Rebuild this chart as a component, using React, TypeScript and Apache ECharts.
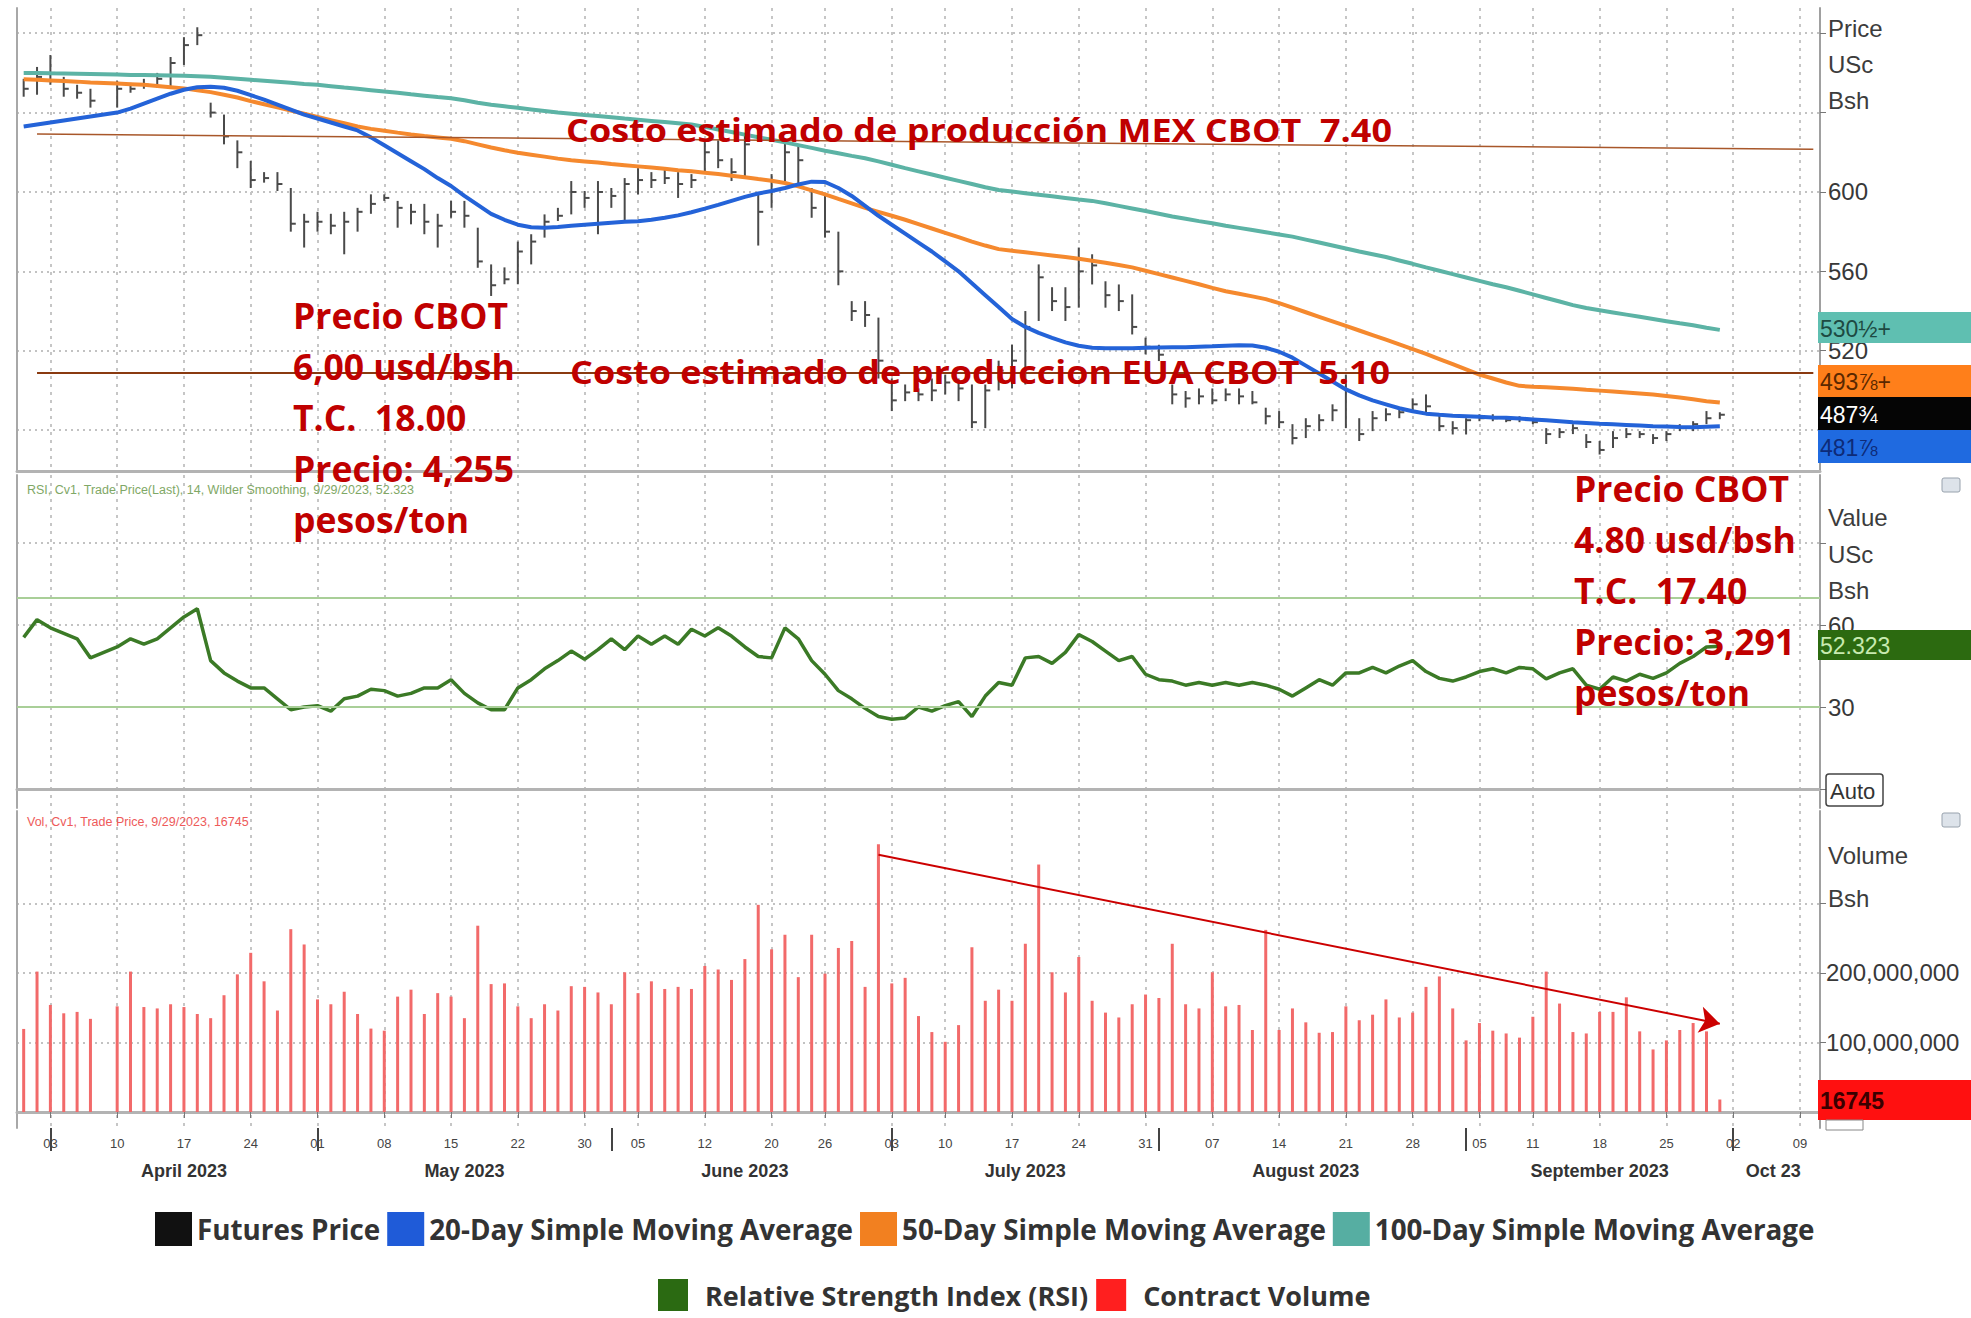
import React, { useEffect, useRef } from "react";
import * as echarts from "echarts";

// ---- trading days (category axis) ----
const marDays = [30, 31];
const aprDays = [3, 4, 5, 6, 7, 10, 11, 12, 13, 14, 17, 18, 19, 20, 21, 24, 25, 26, 27, 28];
const mayDays = [1, 2, 3, 4, 5, 8, 9, 10, 11, 12, 15, 16, 17, 18, 19, 22, 23, 24, 25, 26, 30, 31];
const junDays = [1, 2, 5, 6, 7, 8, 9, 12, 13, 14, 15, 16, 20, 21, 22, 23, 26, 27, 28, 29, 30];
const julDays = [3, 5, 6, 7, 10, 11, 12, 13, 14, 17, 18, 19, 20, 21, 24, 25, 26, 27, 28, 31];
const augDays = [1, 2, 3, 4, 7, 8, 9, 10, 11, 14, 15, 16, 17, 18, 21, 22, 23, 24, 25, 28, 29, 30, 31];
const sepDays = [1, 5, 6, 7, 8, 11, 12, 13, 14, 15, 18, 19, 20, 21, 22, 25, 26, 27, 28, 29];
const octDays = [2, 3, 4, 5, 6, 9, 10];
const monthDefs = [
  { month: 3, days: marDays, label: "" },
  { month: 4, days: aprDays, label: "April 2023" },
  { month: 5, days: mayDays, label: "May 2023" },
  { month: 6, days: junDays, label: "June 2023" },
  { month: 7, days: julDays, label: "July 2023" },
  { month: 8, days: augDays, label: "August 2023" },
  { month: 9, days: sepDays, label: "September 2023" },
  { month: 10, days: octDays, label: "Oct 23" },
];

// ---- futures price (USc/bu) ----
const priceHigh = [657, 663, 669, 658, 654, 652, null, 656, 655, 657, 660, 668, 678, 683, 645, 639, 626, 615.6, 610, 610, 602, 589, 590, 589, 590, 592, 598.8, 598.8, 595.5, 594, 594, 589, 595.5, 595.5, 582, 563.5, 562, 575, 578.7, 588.7, 592, 605.5, 600.5, 605.5, 602, 607, 612, 610, 612, 610, 609, 626, 626, 617, 629, 600, 609, 627, 624, 602, 598.8, 580, 545, 545, 536.7, 506, 503, 501, 506, 508, 506, 503, 503, 515, 523, 540, 563.5, 552, 552, 572, 568.6, 555, 553.4, 548.4, 526.6, 523, 503, 499.7, 501, 501, 501, 501, 499.7, 491.3, 489.6, 483, 486, 488, 493, 508, 486, 489.6, 491, 491, 496, 498, 488, 484.5, 486, 488, 488, 487, 487, 486, 481, 481, 483, 478, 474.5, 479.5, 481, 479.5, 478, 479.5, 483, 484.5, 489.6, 489];
const priceLow = [648, 649, 654, 648, 647, 642.5, null, 642.5, 650, 652, 652.5, 652.5, 664, 674, 637.5, 624, 612, 602, 604.7, 600.5, 580, 572, 580, 578.7, 568.6, 580, 589, 595.5, 582, 583.7, 578.7, 572, 587, 582, 561.8, 547.6, 553.5, 553.5, 563.5, 577, 585.4, 588.7, 592, 578.7, 592, 585, 598.8, 602, 604, 597, 602, 610.6, 612, 605.5, 607, 573, 592, 605.5, 602, 587, 577, 553, 535, 532, 506, 489.6, 494.6, 494.6, 494.6, 498, 494.6, 481, 481, 500, 501, 503, 535, 540, 535, 541.7, 553.4, 541.7, 540, 528.2, 518.2, 514.8, 493, 491.3, 493, 493, 494.6, 493, 493, 482.9, 481, 472.8, 476, 479.5, 484.5, 481, 474.5, 479.5, 484.5, 486, 489.6, 488, 479.5, 477.8, 477.8, 484.5, 484.5, 484, 484, 483, 473, 476, 478, 471, 467.7, 471, 476, 476, 473, 474.5, 479.5, 479.5, 483, 485.5];
const priceClose = [652, 658, 660, 652, 650, 646, null, 652, 652, 654, 657, 665, 674, 679, 640, 628, 620, 606, 607, 604, 584, 585, 585, 583, 585, 590, 594, 597, 592, 590, 585, 583, 590, 588, 565, 553, 556, 570, 575, 585, 588, 600, 597, 600, 598, 604, 606, 606, 607, 604, 606, 620, 616, 610, 624, 590, 605, 620, 616, 592, 580, 560, 540, 538, 515, 495, 499, 498, 500, 504, 501, 484, 500, 510, 515, 532, 557, 545, 542, 560, 563, 548, 545, 532, 522, 518, 498, 496, 497, 495, 498, 497, 494, 487, 484, 476, 482, 485, 490, 500, 478, 486, 488, 489, 493, 492, 482, 481, 485, 486, 486, 485, 486, 484, 478, 479, 481, 474, 470, 476, 478, 478, 476, 478, 481, 483, 486, 487.75];

// ---- moving averages ----
const sma20 = [633, 634, 635, 636, 637, 638, null, 640, 642, 644.5, 647, 649.5, 651.5, 652.8, 653, 652.5, 651, 648.8, 646.5, 644, 641.5, 639, 637, 635, 633, 631, 627.5, 623.5, 619.5, 615.5, 611.5, 607, 603, 598, 593.5, 589, 586, 583.5, 582.2, 582, 582.4, 583, 583.5, 584, 584.5, 585, 585.3, 586, 587, 588.2, 589.8, 591.6, 593.5, 595.5, 597.5, 599.2, 600.5, 602, 603.8, 605.2, 605, 602, 598, 593, 588, 583.5, 579, 574.5, 570, 565, 560, 554, 548, 542, 536, 532, 529, 526.5, 524.2, 522.5, 521.5, 521.2, 521.2, 521.3, 521.5, 521.6, 521.7, 521.8, 522, 522.2, 522.5, 522.8, 522.6, 521.5, 519.5, 516.5, 512.5, 508.5, 504.5, 500.5, 497.5, 495, 493, 491, 489.5, 488.3, 487.7, 487.3, 487, 486.7, 486.4, 486.2, 485.8, 485.4, 485, 484.5, 484, 483.6, 483.2, 482.9, 482.6, 482.3, 482, 481.8, 481.6, 481.5, 481.7, 481.9];
const sma50 = [656.8, 656.5, 656.2, 655.9, 655.6, 655.2, null, 654.6, 654.3, 654, 653.4, 652.8, 652.2, 651.3, 650.3, 649, 647.6, 645.8, 644.2, 642.6, 641, 639.4, 637.8, 636.2, 634.6, 633, 631.8, 630.8, 629.9, 629, 628.2, 627.5, 626.8, 625.6, 624, 622.4, 621, 619.8, 618.8, 617.8, 616.8, 616, 615.4, 614.8, 614.1, 613.5, 612.9, 612.3, 611.7, 611, 610.4, 609.7, 609, 608.2, 607.4, 606.5, 605.7, 604.5, 602.8, 600.8, 598.8, 596.5, 594.3, 592, 590, 588, 586, 583.8, 581.6, 579.4, 577.2, 575, 573, 571.2, 570.4, 569.6, 568.8, 568, 567.2, 566.3, 565.3, 564.3, 563.2, 562, 560.3, 558.6, 556.9, 555.2, 553.5, 551.7, 550, 548.7, 547.4, 546, 544, 541.7, 539.4, 537.1, 534.8, 532.5, 530.2, 527.9, 525.6, 523.2, 520.8, 518.4, 515.8, 513.2, 510.6, 508, 506, 504, 502.3, 501.9, 501.6, 501.2, 500.8, 500.3, 499.9, 499.5, 499, 498.5, 498, 497.2, 496.4, 495.5, 494.6, 493.9];
const sma100 = [660, 660, 659.8, 659.7, 659.6, 659.5, null, 659.2, 659, 658.9, 658.8, 658.7, 658.5, 658.3, 658, 657.5, 657, 656.5, 656, 655.5, 655, 654.4, 654, 653.3, 652.6, 652, 651.3, 650.6, 650, 649.2, 648.5, 647.8, 647.2, 646.2, 645, 644, 643.2, 642.4, 641.6, 640.8, 640, 639.4, 638.8, 638.3, 637.7, 637, 636.4, 635.8, 635.2, 634.6, 634, 632.8, 631.5, 630.2, 628.9, 627.6, 626.3, 625, 623.6, 622.2, 620.8, 619.5, 618.2, 617, 615.4, 613.7, 612, 610.4, 608.8, 607.2, 605.6, 604, 602.4, 601, 600.2, 599.4, 598.6, 597.8, 597, 596.2, 595.5, 594.3, 593, 591.7, 590.4, 589, 587.6, 586.5, 585.3, 584.2, 583, 581.9, 580.8, 579.7, 578.6, 577.5, 576, 574.5, 573, 571.5, 570, 568.6, 567.2, 565.5, 563.8, 562, 560.3, 558.6, 556.9, 555.2, 553.5, 552, 550.2, 548.4, 546.6, 544.8, 543, 541.5, 540.4, 539.3, 538.2, 537.1, 536, 534.9, 533.8, 532.8, 531.6, 530.5];

// ---- RSI (14, Wilder) ----
const rsi = [55.5, 62, 59, 57, 55, 48, null, 52, 55, 53, 55, 59, 63, 66, 47, 42.5, 39.5, 37, 37, 33, 29, 30, 30.5, 28.5, 33, 34, 36.5, 36, 34, 35, 37, 37, 40, 35, 31.5, 29, 29, 37, 40, 44, 47, 50.5, 47.5, 51, 55, 51, 56, 53, 56, 53, 58.5, 56, 59, 56, 52, 48.5, 48, 59, 55, 47, 42, 36, 33, 29.5, 26.5, 25.5, 26, 30, 28.5, 30.5, 32, 26.5, 34, 39, 38, 48, 48.5, 46, 50, 56.5, 54, 50.5, 47, 48.5, 42, 40, 39.5, 38, 39, 38, 39, 38, 39, 38, 36.5, 34, 37, 40, 38, 42.5, 42.5, 44.5, 42.5, 45, 47, 43, 40.5, 39.5, 41, 43, 44, 42.5, 44.5, 44, 40.3, 42.5, 44, 38, 36.5, 41, 39.5, 42, 40.5, 42.5, 46, 48.5, 52, 52.3];
const rsiBands = [70, 30];

// ---- volume (millions of bushels) ----
const volumeM = [119.5, 202, 154, 142, 144, 134, null, 152, 202, 151, 149, 155, 151, 141, 135, 168, 198, 229, 188, 146, 263, 241, 162, 155, 173, 141, 120, 117, 166, 176, 141, 171, 166, 135, 268, 184, 185, 152, 135, 155, 146, 181, 180, 172, 155, 201, 171, 188, 177, 180, 177, 210, 205, 190, 220, 298, 234, 255, 194, 255, 199, 236, 246, 180, 385, 185, 193, 138, 115, 101, 125, 237, 160, 176, 160, 242, 356, 201, 172, 223, 160, 143, 136, 155, 169, 164, 242, 155, 149, 201, 152, 154, 118, 262, 118, 149, 129, 114, 115, 152, 132, 140, 162, 136, 143, 180, 195, 149, 103, 128, 117, 113, 107, 137, 202, 156, 115, 113, 144, 144, 165, 116, 90, 103, 118, 128, 116, 18];

// ---- axis ticks ----
const priceGridTicks = [480, 520, 560, 600, 640, 680];
const priceLabels = [520, 560, 600];
const rsiGridTicks = [0, 30, 60, 90];
const rsiLabels = [30, 60];
const volGridTicks = [0, 100000000, 200000000, 300000000];
const volLabels = [100000000, 200000000];

// ---- annotation levels (drawn on price scale) ----
const mexCostLine = [629.2, 621.5];
const euaCostLine = 508.8;
const volTrend = [[64, 370], [127, 127]];

const seriesNames = {
  fut: "Futures Price",
  s20: "20-Day Simple Moving Average",
  s50: "50-Day Simple Moving Average",
  s100: "100-Day Simple Moving Average",
  rsi: "Relative Strength Index (RSI)",
  vol: "Contract Volume",
};

export default function App() {
  const ref = useRef<HTMLDivElement>(null);

  useEffect(() => {
    if (!ref.current) return;
    const chart = echarts.init(ref.current, null, { renderer: "svg" });

    const cats: string[] = [];
    const jsDates: Date[] = [];
    const monthStart = new Set<number>();
    const monthMid: Record<number, string> = {};
    monthDefs.forEach((m) => {
      const start = cats.length;
      m.days.forEach((d) => {
        cats.push(`2023-${String(m.month).padStart(2, "0")}-${String(d).padStart(2, "0")}`);
        jsDates.push(new Date(2023, m.month - 1, d));
      });
      const end = cats.length - 1;
      if (m.label) {
        monthStart.add(start);
        monthMid[Math.round((start + end) / 2)] = m.label;
      }
    });
    const weekStart = new Set<number>();
    for (let i = 1; i < jsDates.length; i++) {
      if (jsDates[i].getDay() < jsDates[i - 1].getDay()) weekStart.add(i);
    }
    const weekFn = (i: number) => weekStart.has(i);

    const gridLine = { show: true, lineStyle: { color: "#c2c2c2", width: 2, type: [2, 4] as any } };
    const vGridLine = { show: true, interval: weekFn, alignWithLabel: true, lineStyle: { color: "#c6c6c6", width: 2, type: [3, 5] as any } };

    const mkX = (g: number, labels: boolean) => ({
      type: "category",
      gridIndex: g,
      data: cats,
      boundaryGap: true,
      axisLine: { show: true, lineStyle: { color: "#b3b3b3", width: 3 } },
      axisTick: { show: labels, interval: weekFn, alignWithLabel: true, length: 6, lineStyle: { color: "#777", width: 1 } },
      axisLabel: {
        show: labels,
        interval: weekFn,
        margin: 9,
        fontSize: 13,
        fontFamily: "Liberation Sans Narrow, Liberation Sans",
        color: "#444",
        formatter: (v: string) => v.slice(8, 10),
      },
      splitLine: vGridLine,
    });

    const axisFont = { fontSize: 24, fontFamily: "Liberation Sans, Arial", color: "#383838" };
    const leftLine = (g: number) => ({
      type: "value",
      gridIndex: g,
      position: "left",
      min: 0,
      max: 1,
      axisLine: { show: true, onZero: false, lineStyle: { color: "#a8a8a8", width: 2 } },
      axisTick: { show: false },
      axisLabel: { show: false },
      splitLine: { show: false },
    });

    const futData: any[] = [];
    priceHigh.forEach((h, i) => {
      if (h != null && priceLow[i] != null && priceClose[i] != null) futData.push([i, h, priceLow[i], priceClose[i]]);
    });
    const volData = volumeM.map((v) => (v == null ? null : v * 1e6));

    const txt = (text: string, x: number, y: number, o: any = {}) => ({
      type: "text",
      x,
      y,
      z: 100,
      scaleX: o.scaleX || 1,
      silent: true,
      style: {
        text,
        fill: o.fill || "#3c3c3c",
        fontSize: o.fontSize || 24,
        fontFamily: o.fontFamily || "Liberation Sans, Arial",
        fontWeight: o.fontWeight || "normal",
        align: "left",
        verticalAlign: "middle",
      },
    });
    const red = { fill: "#c00000", fontFamily: "Open Sans", fontWeight: "bold", fontSize: 35.5 };
    const redC = { fill: "#c00000", fontFamily: "Open Sans", fontWeight: "bold", fontSize: 33, scaleX: 1.09 };
    const badge = (y: number, h: number, color: string, text: string, tcol: string, bold = false) => [
      { type: "rect", z: 90, silent: true, shape: { x: 1818, y, width: 153, height: h }, style: { fill: color } },
      txt(text, 1820, y + h / 2 + 1, { fill: tcol, fontSize: 23, fontWeight: bold ? "bold" : "normal" }),
    ];

    const graphics: any[] = [
      txt("Price", 1828, 28),
      txt("USc", 1828, 64),
      txt("Bsh", 1828, 100),
      txt("Value", 1828, 517),
      txt("USc", 1828, 554),
      txt("Bsh", 1828, 590),
      txt("Volume", 1828, 855),
      txt("Bsh", 1828, 898),
      ...badge(312, 31, "#5fbfb1", "530½+", "#1d4a42"),
      ...badge(365, 32, "#ff7f1a", "493⅞+", "#5a2800"),
      ...badge(397, 33, "#050505", "487¾", "#ffffff"),
      ...badge(430, 33, "#1f6ae0", "481⅞", "#0d2b78"),
      ...badge(630, 30, "#2c6a10", "52.323", "#c8eab0"),
      ...badge(1080, 40, "#ff1010", "16745", "#3a0000", true),
      { type: "rect", z: 90, silent: true, shape: { x: 1826, y: 1120, width: 37, height: 10 }, style: { fill: "#fff", stroke: "#888", lineWidth: 1 } },
      { type: "rect", z: 90, silent: true, shape: { x: 1826, y: 774, width: 57, height: 32, r: 3 }, style: { fill: "#fff", stroke: "#444", lineWidth: 1.5 } },
      txt("Auto", 1830, 791, { fontSize: 22, fill: "#333" }),
      { type: "rect", z: 90, silent: true, shape: { x: 1942, y: 478, width: 18, height: 14, r: 2 }, style: { fill: "#dde3ea", stroke: "#98a2ad", lineWidth: 1 } },
      { type: "rect", z: 90, silent: true, shape: { x: 1942, y: 813, width: 18, height: 14, r: 2 }, style: { fill: "#dde3ea", stroke: "#98a2ad", lineWidth: 1 } },
      txt("RSI, Cv1, Trade Price(Last), 14, Wilder Smoothing, 9/29/2023, 52.323", 27, 490, { fontSize: 12.5, fill: "#7fa866" }),
      txt("Vol, Cv1, Trade Price, 9/29/2023, 16745", 27, 822, { fontSize: 12.5, fill: "#ee5a5a" }),
      txt("Costo estimado de producción MEX CBOT  7.40", 566, 129, redC),
      txt("Costo estimado de produccion EUA CBOT  5.10", 570, 371, redC),
      txt("Precio CBOT", 293, 315, red),
      txt("6,00 usd/bsh", 293, 366, red),
      txt("T.C.  18.00", 293, 417, red),
      txt("Precio: 4,255", 293, 468, red),
      txt("pesos/ton", 293, 519, red),
      txt("Precio CBOT", 1574, 488, red),
      txt("4.80 usd/bsh", 1574, 539, red),
      txt("T.C.  17.40", 1574, 590, red),
      txt("Precio: 3,291", 1574, 641, red),
      txt("pesos/ton", 1574, 692, red),
    ];

    const legendText = { fontFamily: "Open Sans", fontWeight: "bold", fontSize: 28, color: "#333" };

    const option: any = {
      animation: false,
      backgroundColor: "#ffffff",
      grid: [
        { left: 17, right: 151, top: 8, height: 463 },
        { left: 17, right: 151, top: 475, height: 333 },
        { left: 17, right: 151, top: 811, height: 317 },
      ],
      legend: [
        {
          left: 150,
          top: 1207,
          icon: "rect",
          itemWidth: 37,
          itemHeight: 34,
          itemGap: 7,
          selectedMode: false,
          textStyle: { ...legendText, fontSize: 27.8 },
          data: [
            { name: seriesNames.fut, itemStyle: { color: "#111111" } },
            { name: seriesNames.s20, itemStyle: { color: "#1f5bd8" } },
            { name: seriesNames.s50, itemStyle: { color: "#f28020" } },
            { name: seriesNames.s100, itemStyle: { color: "#56aea2" } },
          ],
        },
        {
          left: 653,
          top: 1274,
          icon: "rect",
          itemWidth: 30,
          itemHeight: 32,
          itemGap: 8,
          selectedMode: false,
          textStyle: { ...legendText, fontSize: 27, padding: [0, 0, 0, 12] },
          data: [
            { name: seriesNames.rsi, itemStyle: { color: "#2b6a12" } },
            { name: seriesNames.vol, itemStyle: { color: "#ff1f1f" } },
          ],
        },
      ],
      xAxis: [
        mkX(0, false),
        mkX(1, false),
        mkX(2, true),
        {
          type: "category",
          gridIndex: 2,
          data: cats,
          boundaryGap: true,
          position: "bottom",
          offset: 29,
          axisLine: { show: false },
          axisTick: { show: true, interval: (i: number) => monthStart.has(i), alignWithLabel: true, length: 23, lineStyle: { color: "#444", width: 2 } },
          axisLabel: {
            show: true,
            interval: (i: number) => monthMid[i] !== undefined,
            margin: 5,
            fontSize: 18,
            fontWeight: "bold",
            fontFamily: "Liberation Sans Narrow, Liberation Sans",
            color: "#333",
            formatter: (_v: string, i: number) => monthMid[i] || "",
          },
          splitLine: { show: false },
        },
      ],
      yAxis: [
        {
          type: "value",
          gridIndex: 0,
          position: "right",
          min: 459.4,
          max: 692.7,
          axisLine: { show: true, lineStyle: { color: "#a0a0a0", width: 2 } },
          axisTick: { show: true, customValues: priceGridTicks, length: 6, lineStyle: { color: "#777" } },
          axisLabel: { ...axisFont, customValues: priceLabels, margin: 8 },
          splitLine: gridLine,
        },
        leftLine(0),
        {
          type: "value",
          gridIndex: 1,
          position: "right",
          min: -7,
          max: 115,
          axisLine: { show: true, lineStyle: { color: "#a0a0a0", width: 2 } },
          axisTick: { show: true, customValues: rsiGridTicks, length: 6, lineStyle: { color: "#777" } },
          axisLabel: { ...axisFont, customValues: rsiLabels, margin: 8 },
          splitLine: gridLine,
        },
        leftLine(1),
        {
          type: "value",
          gridIndex: 2,
          position: "right",
          min: -23000000,
          max: 433000000,
          axisLine: { show: true, lineStyle: { color: "#a0a0a0", width: 2 } },
          axisTick: { show: true, customValues: volGridTicks, length: 6, lineStyle: { color: "#777" } },
          axisLabel: { ...axisFont, customValues: volLabels, margin: 6, formatter: (v: number) => v.toLocaleString("en-US") },
          splitLine: gridLine,
        },
        leftLine(2),
      ],
      graphic: graphics,
      series: [
        {
          name: seriesNames.fut,
          type: "custom",
          xAxisIndex: 0,
          yAxisIndex: 0,
          itemStyle: { color: "#111111" },
          encode: { x: 0, y: [1, 2, 3] },
          data: futData,
          z: 2,
          renderItem: (_p: any, api: any) => {
            const x = api.value(0);
            const hi = api.coord([x, api.value(1)]);
            const lo = api.coord([x, api.value(2)]);
            const cl = api.coord([x, api.value(3)]);
            return {
              type: "group",
              children: [
                { type: "line", shape: { x1: hi[0], y1: hi[1], x2: lo[0], y2: lo[1] }, style: { stroke: "#4a4a4a", lineWidth: 2 } },
                { type: "line", shape: { x1: cl[0], y1: cl[1], x2: cl[0] + 5, y2: cl[1] }, style: { stroke: "#4a4a4a", lineWidth: 2 } },
              ],
            };
          },
        },
        {
          name: seriesNames.s100,
          type: "line",
          xAxisIndex: 0,
          yAxisIndex: 0,
          data: sma100,
          showSymbol: false,
          connectNulls: true,
          color: "#5cb3a5",
          lineStyle: { color: "#5cb3a5", width: 4 },
          z: 3,
        },
        {
          name: seriesNames.s50,
          type: "line",
          xAxisIndex: 0,
          yAxisIndex: 0,
          data: sma50,
          showSymbol: false,
          connectNulls: true,
          color: "#f5892e",
          lineStyle: { color: "#f5892e", width: 4 },
          z: 3,
        },
        {
          name: seriesNames.s20,
          type: "line",
          xAxisIndex: 0,
          yAxisIndex: 0,
          data: sma20,
          showSymbol: false,
          connectNulls: true,
          color: "#2463d8",
          lineStyle: { color: "#2463d8", width: 4 },
          z: 3,
        },
        {
          name: "annotations",
          type: "line",
          xAxisIndex: 0,
          yAxisIndex: 0,
          data: [],
          z: 150,
          silent: true,
          markLine: {
            silent: true,
            symbol: "none",
            label: { show: false },
            data: [
              [
                { coord: [1, mexCostLine[0]], lineStyle: { color: "#a8572a", width: 1.5, type: "solid" } },
                { coord: [134, mexCostLine[1]] },
              ],
              [
                { coord: [1, euaCostLine], lineStyle: { color: "#8a3a10", width: 2, type: "solid" } },
                { coord: [134, euaCostLine] },
              ],
            ],
          },
        },
        {
          name: seriesNames.rsi,
          type: "line",
          xAxisIndex: 1,
          yAxisIndex: 2,
          data: rsi,
          showSymbol: false,
          connectNulls: true,
          color: "#3b7a26",
          lineStyle: { color: "#3b7a26", width: 3.5 },
          z: 3,
          markLine: {
            silent: true,
            symbol: "none",
            label: { show: false },
            lineStyle: { color: "#a9cf98", width: 2, type: "solid" },
            data: rsiBands.map((v) => ({ yAxis: v })),
          },
        },
        {
          name: seriesNames.vol,
          type: "bar",
          xAxisIndex: 2,
          yAxisIndex: 4,
          data: volData,
          barWidth: 3,
          color: "#f26a6a",
          itemStyle: { color: "#f26a6a" },
          z: 3,
          markLine: {
            silent: true,
            symbol: ["none", "arrow"],
            symbolSize: 20,
            label: { show: false },
            data: [
              [
                { coord: [volTrend[0][0], volTrend[0][1] * 1e6], lineStyle: { color: "#cc0000", width: 2, type: "solid" }, itemStyle: { color: "#cc0000" } },
                { coord: [volTrend[1][0], volTrend[1][1] * 1e6] },
              ],
            ],
          },
        },
      ],
    };

    chart.setOption(option);
    return () => chart.dispose();
  }, []);

  return (
    <div
      ref={ref}
      style={{ position: "fixed", left: 0, top: 0, width: 1971, height: 1318, background: "#fff" }}
    />
  );
}
